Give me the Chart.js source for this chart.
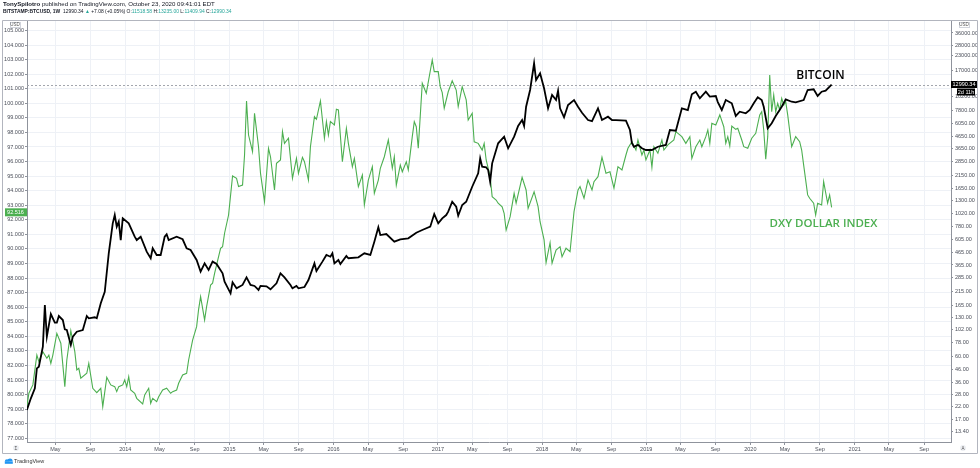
<!DOCTYPE html>
<html><head><meta charset="utf-8">
<script src="https://cdn.jsdelivr.net/npm/chart.js@4/dist/chart.umd.min.js"></script>
<style>html,body{margin:0;padding:0;background:#fff;}#wrap{position:relative;width:980px;height:468px;}</style>
</head><body><div id="wrap"><canvas id="c" width="980" height="468"></canvas></div>
<script>
// Weekly bars: index = weeks since Monday 2013-01-21
const weekZero = [2013, 0, 21];

const btcWeeks = [0,2,4,5,6,8,9,10,12,14,15,16,18,19,20,22,23,25,28,30,31,34,35,37,39,41,43,44,45,46,47,48,51,54,55,57,60,62,63,65,67,69,70,71,75,78,80,82,85,87,89,91,93,95,98,99,102,103,105,108,110,112,114,116,117,120,122,125,127,129,132,133,135,136,139,141,144,145,148,150,152,153,154,156,157,160,161,166,169,172,174,176,177,180,184,187,191,195,198,202,204,206,208,210,211,213,215,216,218,220,223,226,227,228,230,231,232,233,236,239,241,244,246,248,249,250,252,254,255,257,259,261,263,265,266,267,269,271,274,276,278,281,283,286,288,291,293,295,300,302,303,304,306,308,310,313,316,320,322,325,326,328,331,333,335,337,340,342,345,346,348,350,353,355,357,360,362,364,366,368,369,371,373,375,378,380,383,385,389,391,394,396,398,400,403];
const btcPrices = [20.7,26.1,31.8,47.2,48.8,72.5,165.4,88.3,138.4,116.5,116.5,133,122.9,102.2,100.8,75.0,88.3,97.5,100.8,133,127.1,129.7,127.1,171.1,215,460,833,981,779,860,598,919,833,639,598,639,475,417,508,445,445,639,670,598,639,607,508,491,403,320,377,331,390,372,310,262,208.5,259,230,246,286,246,241,222.6,241,239,225.7,254,310,286,246,230,241,230,236,271,377,324,390,445,430,460,377,403,372,436,417,425,460,445,579,769,660,674,579,607,619,692,730,779,1001,833,919,981,1048,1276,1156,968,1196,1276,1718,2240,3013,2552,2522,2392,1897,2729,4059,4626,3675,4626,5720,6430,5720,8370,11650,19760,14200,16220,12060,8110,10550,9560,11490,8110,6790,8660,9560,8370,7430,6430,6300,8110,6430,6870,6430,6430,6350,5280,4059,3790,3930,3675,3555,3555,3790,3930,5280,5210,6030,8110,7840,10700,11260,9890,11260,10210,10350,9180,7840,9560,8960,6970,7590,7350,7840,8960,10080,9560,8370,5460,6030,6970,8370,9690,9240,9130,9560,11650,11820,10350,11260,11490,12990.34];

const dxyWeeks = [0,1,3,4,5,6,8,10,11,12,13,15,17,19,20,22,24,25,26,27,30,31,33,35,37,38,40,42,44,45,46,48,49,50,51,52,54,55,58,59,61,62,63,65,66,68,70,72,73,75,76,78,80,81,83,85,86,87,89,90,92,93,94,96,97,98,99,101,103,105,106,108,109,110,111,113,114,116,117,119,121,122,124,125,127,128,129,131,133,135,136,138,139,141,142,144,145,147,149,150,151,152,154,155,156,158,160,161,163,164,166,168,169,171,173,174,176,177,179,181,183,184,185,187,188,190,191,193,194,195,196,198,200,203,204,206,207,208,209,211,213,215,216,218,220,221,223,224,226,228,229,230,232,233,235,236,238,239,240,242,244,245,248,250,251,254,256,257,259,260,262,263,265,267,268,270,272,274,276,277,279,281,283,284,286,288,290,292,294,296,298,300,301,303,305,306,308,309,310,312,313,314,316,318,319,321,324,325,328,330,332,333,335,337,338,340,341,342,343,345,346,347,349,350,351,352,353,355,356,358,359,361,363,365,367,368,369,370,371,372,373,374,375,376,377,378,379,380,381,383,384,385,387,388,389,391,392,394,395,396,398,399,401,402,403];
const dxyValues = [79.18,80.10,80.67,81.70,82.72,82.27,82.95,82.50,82.72,82.15,82.72,84.21,83.53,80.55,82.38,84.39,82.95,81.70,81.81,81.13,81.47,82.15,80.44,80.14,80.44,79.18,81.19,80.67,80.55,80.21,80.55,80.67,81.01,80.55,81.24,80.32,80.10,79.75,79.36,79.98,80.44,79.41,79.75,79.52,79.86,80.32,80.44,80.10,80.21,80.32,80.78,81.35,81.47,82.38,83.75,84.67,85.86,86.73,85.13,86.04,87.53,87.65,88.33,89.47,90.05,90.16,91.08,92.33,95.01,94.85,94.28,94.39,96.45,100.16,97.82,96.68,99.31,97.02,95.19,93.25,96.91,96.33,94.05,95.88,96.11,98.05,97.25,97.60,94.85,96.22,95.19,96.29,95.99,94.73,97.02,99.08,98.90,100.16,97.60,98.74,97.82,98.74,98.51,99.59,99.54,95.99,98.28,97.25,95.65,96.22,94.28,95.08,93.02,94.73,95.65,93.82,94.73,95.54,96.33,97.48,95.54,96.33,94.39,95.76,95.30,95.99,95.42,97.71,98.74,98.39,96.91,101.37,100.69,102.97,102.17,102.17,101.14,100.73,99.66,100.79,101.55,100.91,99.77,101.14,100.23,98.85,99.31,97.36,97.25,96.79,97.25,96.11,94.96,93.59,93.36,93.14,92.90,92.45,91.30,92.22,93.82,93.14,94.92,94.05,92.79,93.93,92.90,91.87,90.62,89.06,90.43,89.02,89.93,90.16,89.47,90.05,89.81,92.56,94.05,94.28,93.48,94.73,94.05,94.62,94.96,96.29,95.19,95.30,94.17,95.65,95.42,96.45,96.91,97.36,96.79,97.48,96.45,96.79,96.11,96.79,95.61,97.02,96.57,97.48,96.79,97.14,97.48,98.05,97.71,97.25,97.71,96.22,97.02,97.48,97.02,97.71,98.17,97.25,98.63,98.51,98.85,99.20,98.39,97.25,97.71,97.07,98.44,98.21,98.28,97.48,97.02,96.91,97.60,97.94,99.20,99.42,98.17,96.16,97.71,101.94,99.42,100.57,99.42,100.00,99.54,100.34,99.88,100.11,99.20,97.02,97.36,97.71,97.36,96.79,95.76,93.71,93.48,93.14,92.33,93.14,93.02,94.62,93.14,93.71,92.86];

const dxyTicks = [77,78,79,80,81,82,83,84,85,86,87,88,89,90,91,92,93,94,95,96,97,98,99,100,101,102,103,104,105];
const btcTicks = [13.4,17,22,28,36,46,60,78,102,130,165,215,285,365,465,605,780,1020,1300,1650,2150,2850,3650,4650,6050,7800,10200,17000,23000,28000,36000];
const xTickMonths = ['2013-05','2013-09','2014-01','2014-05','2014-09','2015-01','2015-05','2015-09','2016-01','2016-05','2016-09','2017-01','2017-05','2017-09','2018-01','2018-05','2018-09','2019-01','2019-05','2019-09','2020-01','2020-05','2020-09','2021-01','2021-05','2021-09'];
const monthLabels = {'05':'May','09':'Sep'};

const btcLast = 12990.34;
const dxyLast = 92.516;

const WEEK = 7 * 24 * 3600 * 1000;
const T0 = Date.UTC(weekZero[0], weekZero[1], weekZero[2]);
const toT = w => T0 + w * WEEK;
const monthT = s => Date.UTC(+s.slice(0, 4), +s.slice(5, 7) - 1, 1);
const xTickVals = xTickMonths.map(monthT);
const xTickText = xTickMonths.map(s => s.slice(5) === '01' ? s.slice(0, 4) : monthLabels[s.slice(5)]);

const TICKFONT = {family: 'Liberation Sans, Arial, sans-serif', size: 5.5};
const TICKCOL = '#4a4e59';
const GRIDCOL = '#eef1f6';
const AXISCOL = '#8f939c';
const GREEN = '#4caf50';

function drawSegments(ctx, segs, x, y, targetW) {
  let size = 6;
  const measure = s => {
    let w = 0;
    segs.forEach(g => { ctx.font = (g.b ? 'bold ' : '') + s + 'px Liberation Sans, Arial, sans-serif'; w += ctx.measureText(g.t).width; });
    return w;
  };
  size = size * targetW / measure(size);
  let cx = x;
  segs.forEach(g => {
    ctx.font = (g.b ? 'bold ' : '') + size + 'px Liberation Sans, Arial, sans-serif';
    ctx.fillStyle = g.c || '#131722';
    ctx.fillText(g.t, cx, y);
    cx += ctx.measureText(g.t).width;
  });
}

const decor = {
  id: 'decor',
  beforeDatasetsDraw(chart) {
    const ctx = chart.ctx, a = chart.chartArea;
    const y = Math.round(chart.scales.yR.getPixelForValue(btcLast)) + 0.5;
    ctx.save();
    ctx.strokeStyle = '#a3a6ad';
    ctx.lineWidth = 1;
    ctx.setLineDash([2, 2]);
    ctx.beginPath(); ctx.moveTo(a.left, y); ctx.lineTo(a.right, y); ctx.stroke();
    ctx.restore();
  },
  afterDraw(chart) {
    const ctx = chart.ctx;
    ctx.save();
    ctx.textBaseline = 'middle';
    ctx.textAlign = 'left';
    drawSegments(ctx, [{t: 'TonySpilotro', b: true}, {t: ' published on TradingView.com, October 23, 2020 09:41:01 EDT'}], 3, 4.5, 212);
    drawSegments(ctx, [
      {t: 'BITSTAMP:BTCUSD, 1W', b: true}, {t: '  12990.34 '}, {t: '\u25B2', c: '#26a69a'}, {t: ' +7.08 (+0.05%) '},
      {t: 'O:'}, {t: '11518.58', c: '#26a69a'}, {t: ' H:'}, {t: '13235.00', c: '#26a69a'},
      {t: ' L:'}, {t: '11409.94', c: '#26a69a'}, {t: ' C:'}, {t: '12990.34', c: '#26a69a'}], 3, 11.5, 229);
    ctx.strokeStyle = '#b2b5be';
    ctx.lineWidth = 1;
    ctx.beginPath();
    ctx.moveTo(2.5, 20.5); ctx.lineTo(977.5, 20.5); ctx.lineTo(977.5, 453.5); ctx.lineTo(2.5, 453.5); ctx.closePath();
    ctx.stroke();
    ctx.font = '4.5px Liberation Sans, Arial, sans-serif';
    ctx.textAlign = 'center';
    [[15, 24.5], [964, 24.5]].forEach(([cx, cy]) => {
      ctx.fillStyle = '#fff'; ctx.strokeStyle = '#d1d4dc';
      ctx.fillRect(cx - 5, cy - 2.5, 10, 5); ctx.strokeRect(cx - 5 + 0.5, cy - 2.5 + 0.5, 10, 5);
      ctx.fillStyle = '#555'; ctx.fillText('USD', cx, cy + 0.3);
    });
    const yd = chart.scales.yL.getPixelForValue(dxyLast);
    ctx.fillStyle = GREEN;
    ctx.fillRect(5, yd - 4, 22, 8);
    ctx.fillStyle = '#fff';
    ctx.font = '5.5px Liberation Sans, Arial, sans-serif';
    ctx.fillText('92.516', 15.5, yd + 0.3);
    const yb = chart.scales.yR.getPixelForValue(btcLast);
    ctx.fillStyle = '#000';
    ctx.fillRect(951, yb - 3.5, 26, 7);
    ctx.fillRect(957, yb + 4, 18, 7);
    ctx.fillStyle = '#fff';
    ctx.fillText('12990.34', 964, yb + 0.3);
    ctx.fillText('2d 11h', 966, yb + 7.8);
    ctx.fillStyle = '#eceef2';
    [[16, 448], [963, 448]].forEach(([cx, cy]) => { ctx.beginPath(); ctx.arc(cx, cy, 3, 0, Math.PI * 2); ctx.fill(); });
    ctx.fillStyle = '#555';
    ctx.font = '4.5px Liberation Sans, Arial, sans-serif';
    ctx.fillText('\u03A3', 16, 448.3);
    ctx.fillText('A', 963, 448.3);
    ctx.fillStyle = '#2196f3';
    ctx.beginPath(); ctx.arc(7, 461.5, 2.2, Math.PI, 0); ctx.arc(10, 461, 2.6, Math.PI, 0); ctx.fill();
    ctx.fillRect(4.8, 461.3, 8, 2.5);
    ctx.textAlign = 'left';
    ctx.fillStyle = '#333';
    ctx.font = '5.5px Liberation Sans, Arial, sans-serif';
    ctx.fillText('TradingView', 14, 461.8);
    ctx.textAlign = 'center';
    ctx.font = '600 12px "Open Sans", sans-serif';
    ctx.fillStyle = '#000';
    ctx.fillText('BITCOIN', 820.5, 75.5);
    ctx.fillStyle = GREEN;
    ctx.font = '600 11.5px "Open Sans", sans-serif';
    ctx.fillText('DXY DOLLAR INDEX', 823.5, 223.5);
    ctx.restore();
  }
};

new Chart(document.getElementById('c'), {
  type: 'line',
  data: {
    datasets: [
      {label: 'BTCUSD', yAxisID: 'yR', data: btcWeeks.map((w, i) => ({x: toT(w), y: btcPrices[i]})),
       borderColor: '#000', borderWidth: 1.8, pointRadius: 0, tension: 0, fill: false},
      {label: 'DXY', yAxisID: 'yL', data: dxyWeeks.map((w, i) => ({x: toT(w), y: dxyValues[i]})),
       borderColor: GREEN, borderWidth: 1.1, pointRadius: 0, tension: 0, fill: false}
    ]
  },
  options: {
    responsive: false, animation: false, devicePixelRatio: 1,
    layout: {padding: {top: 20, left: 0, right: 0, bottom: 0}},
    plugins: {legend: {display: false}, tooltip: {enabled: false}},
    scales: {
      x: {
        type: 'linear', min: toT(0.06), max: toT(462.78),
        afterBuildTicks: s => { s.ticks = xTickVals.map(v => ({value: v})); },
        afterFit: s => { s.height = 26; },
        ticks: {autoSkip: false, maxRotation: 0, padding: 1, font: TICKFONT, color: TICKCOL,
                callback: (v, i) => xTickText[i]},
        grid: {color: GRIDCOL, tickColor: AXISCOL, tickLength: 3},
        border: {color: AXISCOL}
      },
      yL: {
        type: 'linear', position: 'left', min: 76.752, max: 105.716,
        afterBuildTicks: s => { s.ticks = dxyTicks.map(v => ({value: v})); },
        afterFit: s => { s.width = 27; },
        ticks: {padding: 1, font: TICKFONT, color: TICKCOL, callback: v => v.toFixed(3)},
        grid: {color: GRIDCOL, tickColor: AXISCOL, tickLength: 2},
        border: {color: AXISCOL}
      },
      yR: {
        type: 'logarithmic', position: 'right', min: 10.99, max: 46560,
        afterBuildTicks: s => { s.ticks = btcTicks.map(v => ({value: v})); },
        afterFit: s => { s.width = 29; },
        ticks: {padding: 2, font: TICKFONT, color: TICKCOL, callback: v => Number(v).toFixed(2)},
        grid: {drawOnChartArea: false, tickColor: AXISCOL, tickLength: 2},
        border: {color: AXISCOL}
      }
    }
  },
  plugins: [decor]
});
</script>
</body></html>
